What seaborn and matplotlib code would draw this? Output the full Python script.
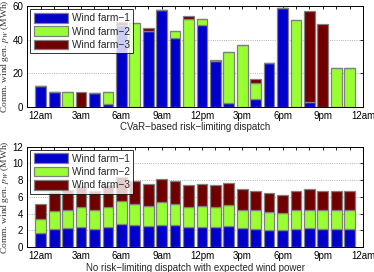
import numpy as np
import pandas as pd
import matplotlib
matplotlib.use("Agg")
import matplotlib.pyplot as plt
import seaborn as sns

# ---------------- Data ----------------
hours = list(range(24))
tick_labels = ["12am", "3am", "6am", "9am", "12pm", "3pm", "6pm", "9pm", "12am"]
farm_names = ["Wind farm\u22121", "Wind farm\u22122", "Wind farm\u22123"]
farm_colors = ["#0000cc", "#99ff33", "#700000"]

# CVaR-based risk-limiting dispatch (MWh)
cvar_wf1 = [12.5, 9.0, 0.0, 0.0, 8.0, 1.8, 49.0, 0.0, 45.5, 57.5, 41.0, 0.0,
            49.0, 27.5, 2.0, 0.0, 4.5, 26.2, 59.0, 0.0, 3.0, 0.0, 0.0, 0.0]
cvar_wf2 = [0.0, 0.0, 9.0, 0.0, 0.0, 6.7, 0.0, 49.8, 0.0, 0.0, 4.0, 52.6,
            3.6, 0.0, 30.6, 36.8, 9.6, 0.0, 0.0, 51.6, 0.0, 0.0, 23.0, 23.0]
cvar_wf3 = [0.0, 0.0, 0.0, 9.0, 0.0, 0.0, 1.3, 0.0, 1.5, 0.0, 0.0, 1.8,
            0.0, 0.4, 0.0, 0.0, 2.2, 0.0, 0.0, 0.0, 54.2, 49.4, 0.0, 0.0]

# No risk-limiting dispatch with expected wind power (MWh)
exp_wf1 = [1.70, 2.15, 2.25, 2.40, 2.20, 2.45, 2.75, 2.60, 2.50, 2.65, 2.60, 2.40,
           2.40, 2.40, 2.50, 2.25, 2.20, 2.05, 2.00, 2.20, 2.25, 2.20, 2.20, 2.20]
exp_wf2 = [1.65, 2.15, 2.25, 2.40, 2.25, 2.40, 2.80, 2.60, 2.45, 2.75, 2.60, 2.40,
           2.50, 2.45, 2.50, 2.25, 2.25, 2.20, 2.10, 2.20, 2.25, 2.25, 2.25, 2.20]
exp_wf3 = [1.80, 2.25, 2.30, 2.45, 2.30, 2.60, 2.80, 2.65, 2.65, 2.75, 2.65, 2.60,
           2.60, 2.55, 2.65, 2.40, 2.30, 2.20, 2.10, 2.25, 2.40, 2.30, 2.30, 2.30]

sns.set_theme(style="white")
plt.rcParams["font.family"] = ["Liberation Sans", "DejaVu Sans"]
plt.rcParams["mathtext.fontset"] = "stix"


def stacked(ax, series, ymax, ystep, xlabel):
    bottom = np.zeros(len(hours))
    for vals, name, col in zip(series, farm_names, farm_colors):
        df = pd.DataFrame({"hour": hours, "val": vals})
        sns.barplot(data=df, x="hour", y="val", bottom=bottom, color=col,
                    saturation=1, width=0.8, errorbar=None, label=name,
                    edgecolor="0.5", linewidth=0.9, ax=ax)
        bottom = bottom + np.array(vals)
    ax.set_xlim(-1, 24)
    ax.set_ylim(0, ymax)
    ax.set_xticks(range(0, 25))
    ax.set_xticklabels([tick_labels[i // 3] if i % 3 == 0 else "" for i in range(25)])
    ax.set_yticks(np.arange(0, ymax + 0.01, ystep))
    ax.tick_params(direction="in", top=True, right=True, length=2.5, width=0.6,
                   labelsize=7, pad=3, colors="black")
    ax.yaxis.grid(True, linestyle=":", color="0.6", linewidth=0.6)
    ax.set_axisbelow(True)
    for s in ax.spines.values():
        s.set_color("black")
        s.set_linewidth(0.7)
    ax.set_xlabel(xlabel, fontsize=7, labelpad=1)
    ax.set_ylabel("Comm. wind gen. $p_W$ (MWh)", fontsize=6.8, family="Liberation Serif",
                  color="0.2")
    ax.yaxis.set_label_coords(-0.049, 0.5)
    leg = ax.legend(loc="upper left", fontsize=7.3, frameon=True, fancybox=False,
                    handlelength=3.4, handleheight=1.1, handletextpad=0.35,
                    labelspacing=0.3, borderpad=0.35, borderaxespad=0.3)
    leg.get_frame().set_edgecolor("black")
    leg.get_frame().set_linewidth(0.7)
    for h in leg.legend_handles:
        h.set_edgecolor("0.5")


fig = plt.figure(figsize=(3.74, 2.72), dpi=100)
ax1 = fig.add_axes([0.073, 0.608, 0.898, 0.369])
ax2 = fig.add_axes([0.073, 0.091, 0.898, 0.370])

stacked(ax1, [cvar_wf1, cvar_wf2, cvar_wf3], 60, 20, "CVaR\u2212based risk\u2212limiting dispatch")
stacked(ax2, [exp_wf1, exp_wf2, exp_wf3], 12, 2, "No risk\u2212limiting dispatch with expected wind power")

fig.savefig("out.png", dpi=100)
